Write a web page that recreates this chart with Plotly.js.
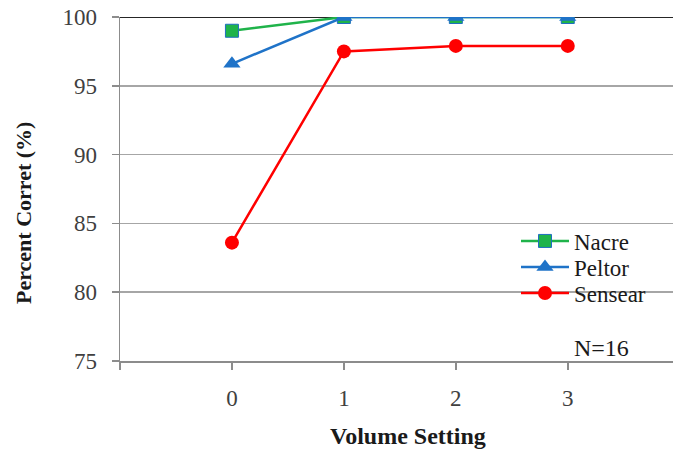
<!DOCTYPE html>
<html>
<head>
<meta charset="utf-8">
<script src="https://cdn.plot.ly/plotly-3.0.1.min.js"></script>
<style>html,body{margin:0;padding:0;background:#fff;}#chart{width:673px;height:450px;}</style>
</head>
<body>
<div id="chart"></div>
<script>
const volume = [0, 1, 2, 3];
const nacre = [99.0, 100, 100, 100];
const peltor = [96.6, 100, 100, 100];
const sensear = [83.6, 97.5, 97.9, 97.9];
const xTickVals = [-1, 0, 1, 2, 3];
const xTickText = ['', '0', '1', '2', '3'];
const yTickVals = [75, 80, 85, 90, 95, 100];

const serif = 'Liberation Serif, Times New Roman, serif';

const traces = [
  {x: volume, y: nacre, name: 'Nacre', mode: 'lines+markers', legend: 'legend',
   line: {color: '#1fb34a', width: 2.5},
   marker: {symbol: 'square', size: 13, color: '#1fb34a', line: {color: '#1f6fc0', width: 1}}},
  {x: volume, y: peltor, name: 'Peltor', mode: 'lines+markers', legend: 'legend2',
   line: {color: '#1f73c8', width: 2.5},
   marker: {symbol: 'triangle-up', size: 15, color: '#1f73c8'}},
  {x: volume, y: sensear, name: 'Sensear', mode: 'lines+markers', legend: 'legend3',
   line: {color: '#ff0000', width: 2.5},
   marker: {symbol: 'circle', size: 14, color: '#ff0000'}}
];

const pw = 673 - 120, ph = 450 - 17 - 89;
function px2x(p) { return (p - 120) / pw; }
function px2y(p) { return (450 - 89 - p) / ph; }

function legendAt(rowY) {
  return {x: px2x(516), y: px2y(rowY), xanchor: 'left', yanchor: 'middle',
          bgcolor: 'rgba(0,0,0,0)', font: {family: serif, size: 23, color: '#1a1a1a'},
          itemwidth: 48, borderwidth: 0};
}

const layout = {
  width: 673, height: 450,
  margin: {l: 120, r: 0, t: 17, b: 89},
  paper_bgcolor: '#fff', plot_bgcolor: '#fff',
  font: {family: serif, size: 23, color: '#404040'},
  showlegend: true,
  legend: legendAt(241),
  legend2: legendAt(267),
  legend3: legendAt(293),
  xaxis: {range: [-1, 3.94], tickvals: xTickVals, ticktext: xTickText,
          showgrid: false, zeroline: false, showline: true, linecolor: '#8c8c8c', linewidth: 1.5,
          ticks: 'outside', ticklen: 7, tickcolor: '#8c8c8c', tickwidth: 1.5, ticklabelstandoff: 9,
          tickfont: {family: serif, size: 23, color: '#404040'}},
  yaxis: {range: [75, 100], tickvals: yTickVals,
          showgrid: true, gridcolor: '#a6a6a6', gridwidth: 1.5, zeroline: false,
          showline: true, linecolor: '#8c8c8c', linewidth: 1.5,
          ticks: 'outside', ticklen: 7, tickcolor: '#8c8c8c', tickwidth: 1.5, ticklabelstandoff: 10,
          tickfont: {family: serif, size: 23, color: '#404040'}},
  shapes: [{type: 'line', xref: 'paper', x0: 0, x1: 1, yref: 'y', y0: 100, y1: 100,
            line: {color: '#262626', width: 2}, layer: 'below'}],
  annotations: [
    {x: 3.30, y: 75.95, xref: 'x', yref: 'y', text: 'N=16', showarrow: false,
     xanchor: 'center', yanchor: 'middle',
     font: {family: serif, size: 24, color: '#1a1a1a'}},
    {x: px2x(408), y: px2y(436), xref: 'paper', yref: 'paper', text: '<b>Volume Setting</b>',
     showarrow: false, xanchor: 'center', yanchor: 'middle',
     font: {family: serif, size: 24, color: '#1a1a1a'}},
    {x: px2x(23), y: px2y(213), xref: 'paper', yref: 'paper', text: '<b>Percent Corret (%)</b>',
     showarrow: false, textangle: -90, xanchor: 'center', yanchor: 'middle',
     font: {family: serif, size: 22, color: '#1a1a1a'}}
  ]
};

Plotly.newPlot('chart', traces, layout, {displayModeBar: false, staticPlot: true});
</script>
</body>
</html>
